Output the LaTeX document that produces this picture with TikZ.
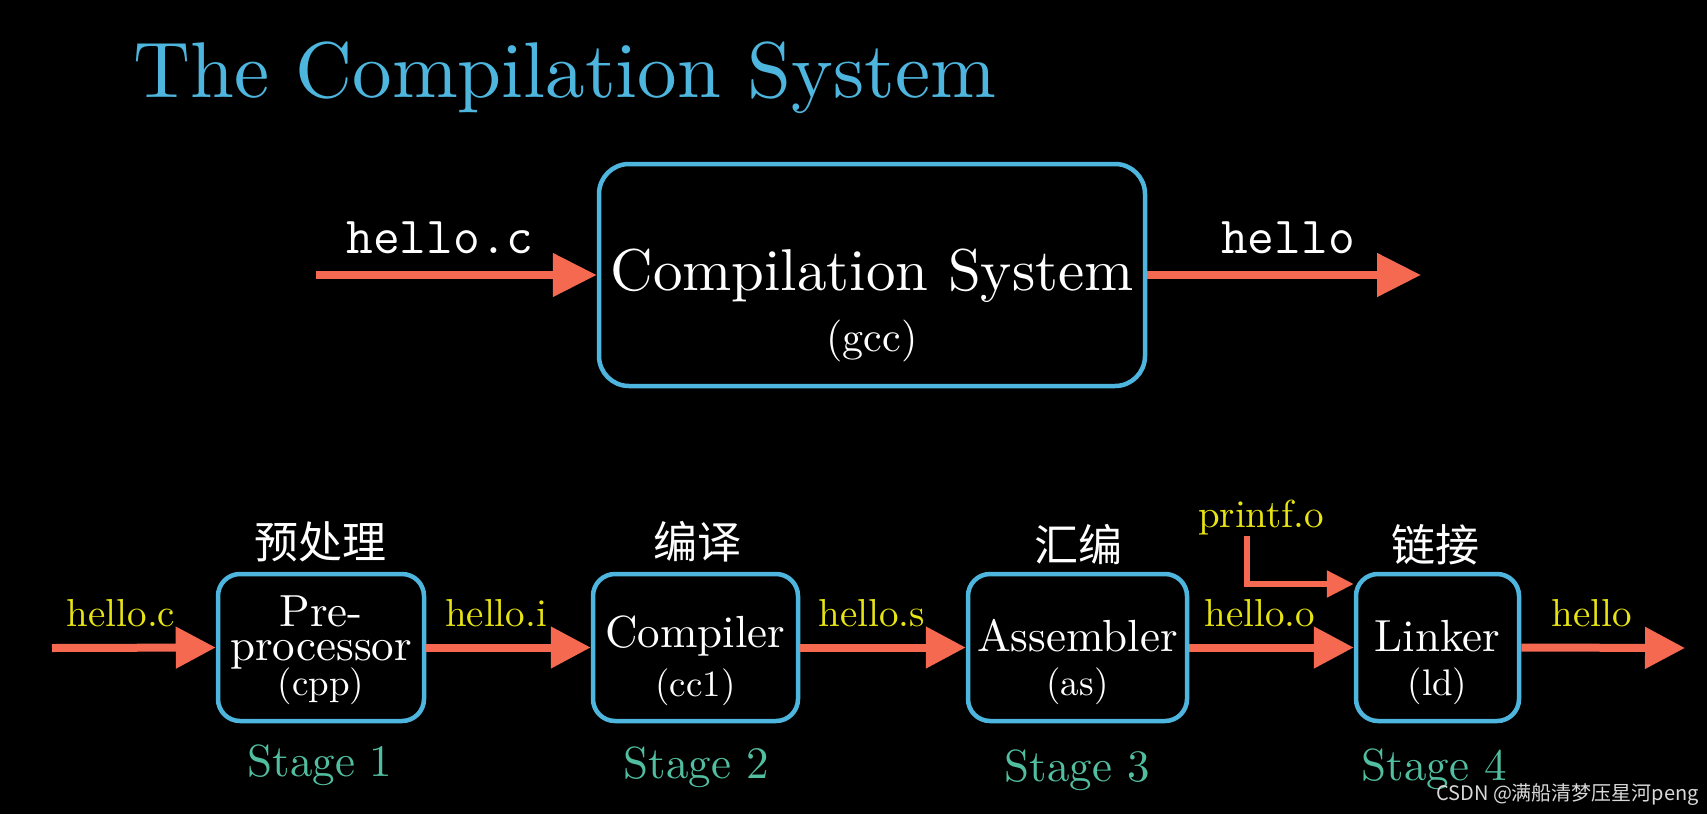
\documentclass[tikz,border=0pt]{standalone}
\usepackage{fontspec}
\setmainfont{lmroman10-regular.otf}
\newfontfamily\cjk{Noto Sans CJK SC}
\usetikzlibrary{arrows.meta}
\definecolor{bblue}{RGB}{78,182,222}
\definecolor{arr}{RGB}{244,105,80}
\definecolor{lab}{RGB}{232,228,20}
\definecolor{stg}{RGB}{82,190,160}
\begin{document}
\begin{tikzpicture}[x=1pt,y=-1pt,
  txt/.style={inner sep=0pt, anchor=base},
  stagebox/.style={draw=bblue, line width=4.5pt, rounded corners=22pt, fill=black, inner sep=0pt, minimum height=147pt},
  bigarrow/.style={draw=arr, line width=8pt, -{Triangle[length=44pt,width=42pt]}},
  midarrow/.style={draw=arr, line width=8pt, -{Triangle[length=40pt,width=40pt]}},
  smallarrow/.style={draw=arr, line width=5.5pt, line join=miter, -{Triangle[length=27pt,width=26pt]}},
  ylab/.style={txt, text=lab, font=\fontsize{39}{46}\selectfont},
  btxt/.style={txt, text=white, font=\fontsize{45}{54}\selectfont},
  ptxt/.style={txt, text=white, font=\fontsize{37}{44}\selectfont},
  stgtxt/.style={txt, text=stg, font=\fontsize{45}{54}\selectfont},
  cjktxt/.style={txt, text=white, font=\cjk\fontsize{44}{52}\selectfont}
]
\fill[black] (0,0) rectangle (1707,814);
\useasboundingbox (0,0) rectangle (1707,814);

% title
\node[txt, anchor=base west, text=bblue, font=\fontsize{79}{90}\selectfont] (title) at (133,97) {The Compilation System};

% top system
\node[stagebox, rounded corners=30pt, minimum width=546pt, minimum height=222pt] (cs) at (872,275) {};
\node[txt, text=white, font=\fontsize{59}{70}\selectfont] (cst) at (872,290) {Compilation System};
\node[txt, text=white, font=\fontsize{42}{50}\selectfont] (gcc) at (872,351) {(gcc)};
\coordinate (in0) at (316,275);
\coordinate (out0) at (1421,275);
\draw[bigarrow] (in0) -- (cs.west);
\draw[bigarrow] (cs.east) -- (out0);
\node[txt, text=white, font=\ttfamily\fontsize{52}{60}\selectfont] (hc0) at (440,253) {hello.c};
\node[txt, text=white, font=\ttfamily\fontsize{52}{60}\selectfont] (h0) at (1288,253) {hello};

% stage boxes
\node[stagebox, minimum width=206pt] (pre) at (321,647.5) {};
\node[stagebox, minimum width=205pt] (comp) at (695.5,647.5) {};
\node[stagebox, minimum width=219pt] (asm) at (1077.5,647.5) {};
\node[stagebox, minimum width=163pt] (link) at (1437.5,647.5) {};

% box texts
\node[btxt] (pre1) at (321,626) {Pre-};
\node[btxt] (pre2) at (321,660) {processor};
\node[ptxt] (pre3) at (321,695) {(cpp)};
\node[btxt] (comp1) at (695.5,647) {Compiler};
\node[ptxt] (comp2) at (695.5,696) {(cc1)};
\node[btxt] (asm1) at (1077.5,651) {Assembler};
\node[ptxt] (asm2) at (1077.5,695) {(as)};
\node[btxt] (link1) at (1437.5,651) {Linker};
\node[ptxt] (link2) at (1437.5,695) {(ld)};

% chinese headings
\node[cjktxt] (zh1) at (320,558) {预处理};
\node[cjktxt] (zh2) at (697,558) {编译};
\node[cjktxt] (zh3) at (1078,561) {汇编};
\node[cjktxt] (zh4) at (1435,561) {链接};

% stage labels
\node[stgtxt] (s1) at (320,776) {Stage 1};
\node[stgtxt] (s2) at (696,778) {Stage 2};
\node[stgtxt] (s3) at (1077,781) {Stage 3};
\node[stgtxt] (s4) at (1434,780) {Stage 4};

% arrows bottom
\coordinate (in1) at (52,648);
\coordinate (out1) at (1685,648);
\draw[midarrow] (in1) -- (pre.west);
\draw[midarrow] (pre.east) -- (comp.west);
\draw[midarrow] (comp.east) -- (asm.west);
\draw[midarrow] (asm.east) -- (link.west);
\draw[midarrow] (link.east) -- (out1);

% yellow labels
\node[ylab] (l1) at (121,626) {hello.c};
\node[ylab] (l2) at (496,626) {hello.i};
\node[ylab] (l3) at (872,626) {hello.s};
\node[ylab] (l4) at (1260,626) {hello.o};
\node[ylab] (l5) at (1592,626) {hello};
\node[ylab] (pf) at (1261,527) {printf.o};

% printf arrow
\coordinate (ps) at (1247,536);
\coordinate (pt) at (1247,584);
\draw[smallarrow] (ps) -- (pt) -- (pt -| link.west);

% watermark
\node[txt, anchor=base west, text=white!85!black, font=\cjk\fontsize{20}{24}\selectfont] (wm) at (1436,800) {CSDN @满船清梦压星河peng};
\end{tikzpicture}
\end{document}
